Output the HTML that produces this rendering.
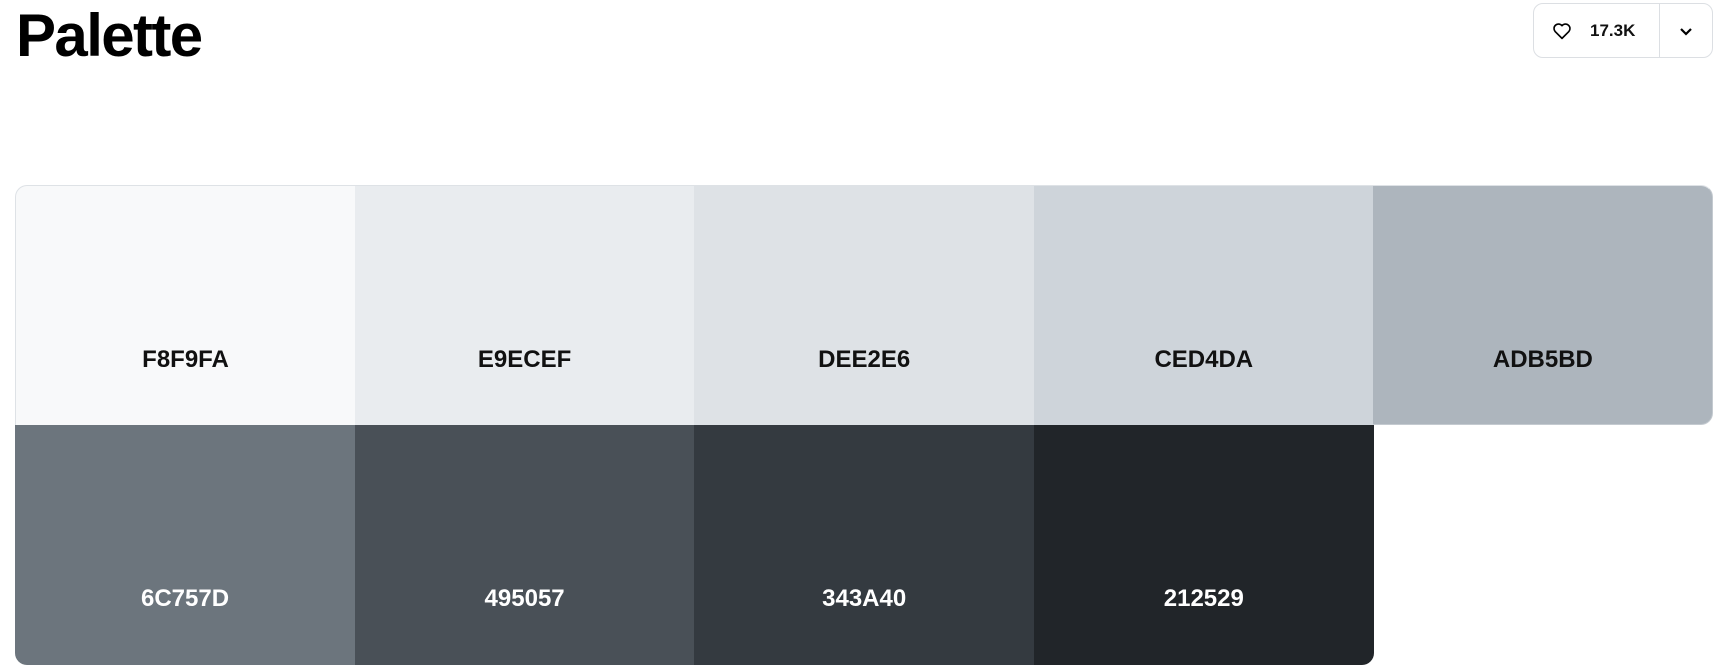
<!DOCTYPE html>
<html><head><meta charset="utf-8"><style>
*{box-sizing:border-box;margin:0;padding:0}
body{width:1717px;height:669px;background:#fff;font-family:"Liberation Sans",sans-serif;position:relative;overflow:hidden}
#title{position:absolute;left:16px;top:1px;font-size:60px;font-weight:bold;letter-spacing:-1.6px;color:#000}
#btn{position:absolute;left:1533px;top:3px;width:180px;height:55px;border:1px solid #dcdfe3;border-radius:10px;display:flex;align-items:center}
#like{width:126px;height:100%;display:flex;align-items:center;padding-left:18px;font-size:17px;font-weight:bold;color:#111;border-right:1px solid #dcdfe3}
#like svg{margin-right:18px}
#more{flex:1;display:flex;align-items:center;justify-content:center}
.c{position:absolute;width:340px;height:240px;font-size:24px;font-weight:bold;text-align:center;display:flex;justify-content:center;align-items:flex-start}
.c span{position:absolute;top:160px;left:0;right:0}
</style></head><body>
<div id="title">Palette</div>
<div id="btn">
 <div id="like"><svg width="20" height="18" viewBox="0 0 24 22"><path d="M12 20 L3.5 11.5 A5 5 0 0 1 12 4.5 A5 5 0 0 1 20.5 11.5 Z" fill="none" stroke="#000" stroke-width="2" stroke-linejoin="round"/></svg><span>17.3K</span></div>
 <div id="more"><svg width="14" height="10" viewBox="0 0 14 10"><path d="M2 3 L7 8 L12 3" fill="none" stroke="#000" stroke-width="2.2"/></svg></div>
</div>
<div id="grid"></div>
<script>
const codes=["F8F9FA","E9ECEF","DEE2E6","CED4DA","ADB5BD","6C757D","495057","343A40","212529"];
const g=document.getElementById('grid');
codes.forEach((c,i)=>{
 const r=Math.floor(i/5),k=i%5;
 const d=document.createElement('div');
 d.className='c';
 
 
 d.style.left=(15+k*339.6)+'px';
 d.style.top=(185+r*239.5)+'px';
 d.style.width='340px';
 d.style.background='#'+c;
 d.style.color=i<5?'#111':'#fff';
 let rad=['0','0','0','0'];
 if(i==0)rad[0]='12px';
 if(i==4){rad[1]='12px';rad[2]='12px';}
 if(i==5)rad[3]='12px';
 if(i==8)rad[2]='12px';
 d.style.borderRadius=rad.join(' ');
 if(i<5){d.style.borderTop='1px solid #dee2e6';if(i==0)d.style.borderLeft='1px solid #dee2e6';if(i==4)d.style.borderRight='1px solid #c4cad0';}
 if(i==4)d.style.borderBottom='1px solid #c4cad0';
 const s=document.createElement('span');
 s.textContent=c;
 
 
 d.appendChild(s);
 g.appendChild(d);
});
</script>
</body></html>
